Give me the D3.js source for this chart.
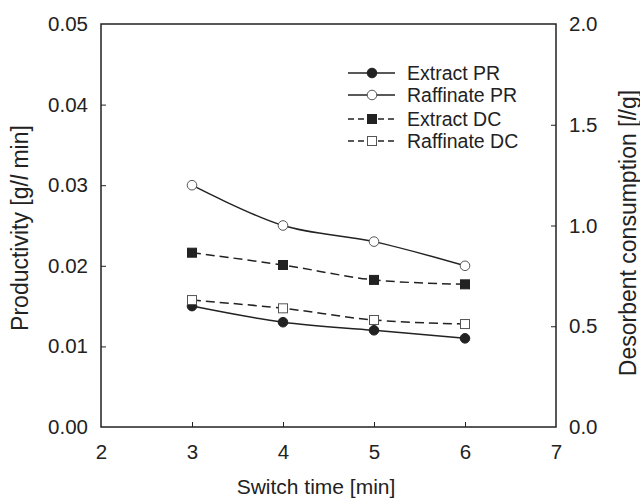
<!DOCTYPE html>
<html><head><meta charset="utf-8">
<script src="https://cdn.jsdelivr.net/npm/d3@7"></script>
<style>
body{margin:0;background:#fff;}
text{font-family:"Liberation Sans",Arial,sans-serif;fill:#222;}
</style></head>
<body><svg id="c" width="640" height="498"></svg>
<script>
const switchTimes = [3, 4, 5, 6];
const extractPR = [0.015, 0.013, 0.012, 0.011];
const raffinatePR = [0.030, 0.025, 0.023, 0.020];
const extractDC = [0.865, 0.804, 0.730, 0.708];
const raffinateDC = [0.630, 0.589, 0.531, 0.511];
const xTicks = [2, 3, 4, 5, 6, 7];
const yLeftTicks = [0, 0.01, 0.02, 0.03, 0.04, 0.05];
const yRightTicks = [0, 0.5, 1.0, 1.5, 2.0];
const legendLabels = ["Extract PR", "Raffinate PR", "Extract DC", "Raffinate DC"];

const svg = d3.select("#c");
const L = 101, R = 556, T = 24, B = 427;
const x = d3.scaleLinear().domain([2, 7]).range([L, R]);
const yL = d3.scaleLinear().domain([0, 0.05]).range([B, T]);
const yR = d3.scaleLinear().domain([0, 2]).range([B, T]);
const col = "#222";
const fs = 20.5;

// frame
svg.append("rect").attr("x", L).attr("y", T).attr("width", R - L).attr("height", B - T)
  .attr("fill", "none").attr("stroke", col).attr("stroke-width", 1.5);

// axes
const gx = svg.append("g").attr("transform", `translate(0,${B})`)
  .call(d3.axisBottom(x).tickValues(xTicks).tickFormat(d3.format("d")).tickSizeInner(-5).tickSizeOuter(0).tickPadding(17));
const gl = svg.append("g").attr("transform", `translate(${L},0)`)
  .call(d3.axisLeft(yL).tickValues(yLeftTicks).tickFormat(d3.format(".2f")).tickSizeInner(-5).tickSizeOuter(0).tickPadding(13));
const gr = svg.append("g").attr("transform", `translate(${R},0)`)
  .call(d3.axisRight(yR).tickValues(yRightTicks).tickFormat(d3.format(".1f")).tickSizeInner(-5).tickSizeOuter(0).tickPadding(13));
[gx, gl, gr].forEach(g => {
  g.select(".domain").remove();
  g.selectAll("line").attr("stroke", col).attr("stroke-width", 1);
  g.selectAll("text").style("font-size", fs + "px").style("font-family", "'Liberation Sans',Arial,sans-serif").attr("fill", col);
});
gx.selectAll(".tick").filter(d => d === 2 || d === 7).select("line").remove();
gl.selectAll(".tick").filter(d => d === 0 || d === 0.05).select("line").remove();
gr.selectAll(".tick").filter(d => d === 0 || d === 2).select("line").remove();

// titles
svg.append("text").attr("x", 316).attr("y", 494).attr("text-anchor", "middle")
  .style("font-size", "21px").text("Switch time [min]");
const tl = svg.append("text").attr("transform", "translate(28,228) rotate(-90)").attr("text-anchor", "middle")
  .style("font-size", "23px");
tl.append("tspan").text("Productivity [g/");
tl.append("tspan").style("font-style", "italic").text("l");
tl.append("tspan").text(" min]");
const tr = svg.append("text").attr("transform", "translate(636,233) rotate(-90)").attr("text-anchor", "middle")
  .style("font-size", "23px");
tr.append("tspan").text("Desorbent consumption [");
tr.append("tspan").style("font-style", "italic").text("l");
tr.append("tspan").text("/g]");

// series
const series = [
  {vals: extractPR, y: yL, dash: null, marker: "circle", fill: col},
  {vals: raffinatePR, y: yL, dash: null, marker: "circle", fill: "#fff"},
  {vals: extractDC, y: yR, dash: "9,5", marker: "square", fill: col},
  {vals: raffinateDC, y: yR, dash: "9,5", marker: "square", fill: "#fff"}
];
series.forEach(s => {
  const line = d3.line().x((d, i) => x(switchTimes[i])).y(d => s.y(d)).curve(d3.curveCatmullRom.alpha(0.5));
  svg.append("path").datum(s.vals).attr("d", line).attr("fill", "none")
    .attr("stroke", col).attr("stroke-width", 1.5).attr("stroke-dasharray", s.dash);
});
function marker(g, type, cx, cy, fill) {
  if (type === "circle") {
    g.append("circle").attr("cx", cx).attr("cy", cy).attr("r", 4.8)
      .attr("fill", fill).attr("stroke", fill === "#fff" ? "#555" : col).attr("stroke-width", 1);
  } else {
    g.append("rect").attr("x", cx - 4.5).attr("y", cy - 4.5).attr("width", 9).attr("height", 9)
      .attr("fill", fill).attr("stroke", fill === "#fff" ? "#555" : col).attr("stroke-width", 1);
  }
}
series.forEach(s => {
  s.vals.forEach((v, i) => marker(svg, s.marker, x(switchTimes[i]), s.y(v), s.fill));
});

// legend
const legY = [73, 95, 119, 141];
series.forEach((s, i) => {
  const g = svg.append("g");
  g.append("line").attr("x1", 348).attr("x2", 395).attr("y1", legY[i]).attr("y2", legY[i])
    .attr("stroke", col).attr("stroke-width", 1.5).attr("stroke-dasharray", s.dash ? "6,4" : null);
  marker(g, s.marker, 372, legY[i], s.fill);
  g.append("text").attr("x", 407).attr("y", legY[i]).attr("dy", "0.36em")
    .style("font-size", "19.5px").text(legendLabels[i]);
});
</script></body></html>
